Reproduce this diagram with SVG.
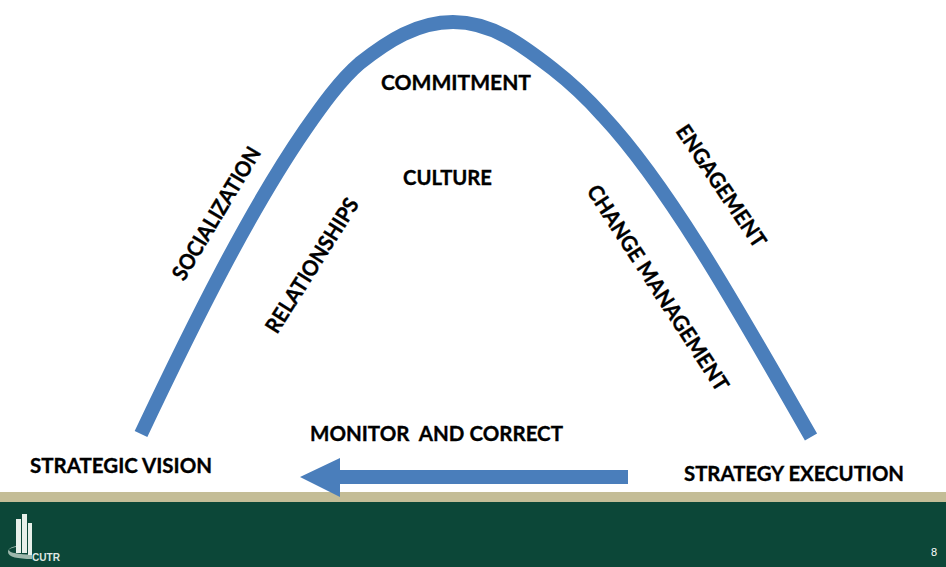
<svg xmlns="http://www.w3.org/2000/svg" width="946" height="567" viewBox="0 0 946 567">
<style>
.t{font-family:"Lato","Open Sans","Liberation Sans",sans-serif;font-weight:700;font-size:21.5px;fill:#000;stroke:#000;stroke-width:.35px}
.c{fill:none;stroke:#4a7ebb;stroke-width:14}
.f{fill:#4a7ebb}
.b{fill:#e8f0ea}
</style>
<rect width="946" height="567" fill="#fff"/>
<g id="footer">
<rect x="0" y="492" width="946" height="10" fill="#c4bd97"/>
<rect x="0" y="502" width="946" height="65" fill="#0c4738"/>
<text x="934" y="556" font-family="Liberation Sans, sans-serif" font-size="11" fill="#fff" text-anchor="middle">8</text>
</g>
<g id="logo">
<path d="M16 547c-4 .8-7 2-7 3 0 3 10 4 23 5v4c-14 0-24-2-24-7 0-3 3-5 8-6z" fill="#9db8ac"/>
<rect x="16" y="519" width="5" height="34" class="b"/>
<rect x="22" y="514" width="5" height="39" class="b"/>
<rect x="28" y="523" width="4" height="32" class="b"/>
<text x="32" y="561" font-family="Liberation Sans, sans-serif" font-size="10" font-weight="700" fill="#dfe8e3" textLength="28" lengthAdjust="spacingAndGlyphs">CUTR</text>
</g>
<g id="connectors">
<path id="arch" class="c" d="M141 434C195 320 250 210 305 130C321 107 340 80 360 63C388 41 417 22 453 22C492 22 522 45 553 69C571 83 587 98 603 116C672 190 745 322 811 437"/>
<path id="arrow" class="f" d="M628 470H340V458L300 477L340 497V484H628Z"/>
</g>
<g id="commitment"><text class="t" x="381" y="90" textLength="150" lengthAdjust="spacingAndGlyphs">COMMITMENT</text></g>
<g id="culture"><text class="t" x="403" y="185" textLength="89" lengthAdjust="spacingAndGlyphs">CULTURE</text></g>
<g id="monitor"><text class="t" x="310" y="441" textLength="253" lengthAdjust="spacingAndGlyphs" xml:space="preserve">MONITOR  AND CORRECT</text></g>
<g id="vision"><text class="t" x="30" y="473" textLength="182" lengthAdjust="spacingAndGlyphs">STRATEGIC VISION</text></g>
<g id="execution"><text class="t" x="684" y="481" textLength="220" lengthAdjust="spacingAndGlyphs">STRATEGY EXECUTION</text></g>
<g id="socialization"><text class="t" transform="translate(184 282) rotate(-59)" textLength="151" lengthAdjust="spacingAndGlyphs">SOCIALIZATION</text></g>
<g id="relationships"><text class="t" transform="translate(277 335) rotate(-57.7)" textLength="155" lengthAdjust="spacingAndGlyphs">RELATIONSHIPS</text></g>
<g id="engagement"><text class="t" transform="translate(675 131) rotate(56)" textLength="143" lengthAdjust="spacingAndGlyphs">ENGAGEMENT</text></g>
<g id="change"><text class="t" transform="translate(586 191) rotate(57)" textLength="241" lengthAdjust="spacingAndGlyphs">CHANGE MANAGEMENT</text></g>
</svg>
